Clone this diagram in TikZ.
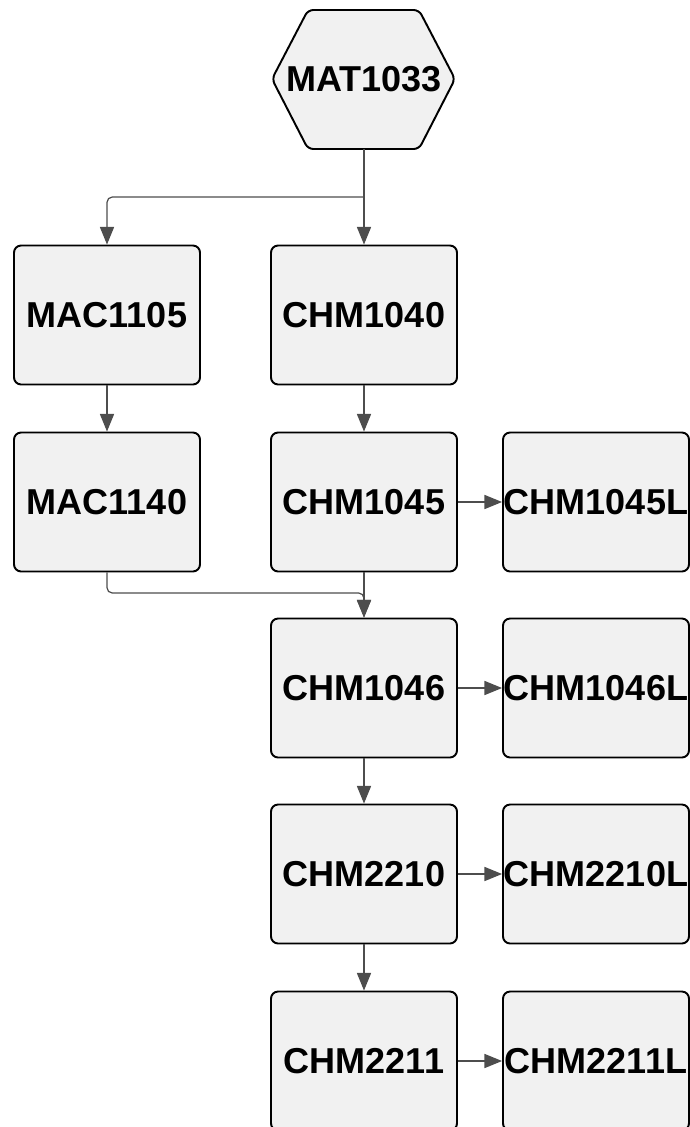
\documentclass[tikz,border=0pt]{standalone}
\usepackage{fontspec}
\setmainfont{Liberation Sans}
\usetikzlibrary{arrows.meta}
\definecolor{boxgray}{HTML}{F1F1F1}
\definecolor{linegray}{HTML}{4D4D4D}
\begin{document}
\begin{tikzpicture}[
  x=0.02cm, y=-0.02cm,
  course/.style={font=\bfseries\fontsize{20.5}{24}\selectfont},
  box/.style={course, rectangle, draw=black, line width=1.1pt, fill=boxgray, rounded corners=4pt, minimum width=3.72cm, minimum height=2.78cm, inner sep=0pt},
  arrow/.style={-{Triangle[length=10pt,width=8pt]}, draw=linegray, line width=0.7pt, rounded corners=3pt}
]
\useasboundingbox (0,0) rectangle (690,1127);
% start course
\draw[line width=1.1pt, fill=boxgray, rounded corners=3pt] (272,79) -- (308,10) -- (419,10) -- (455,79) -- (419,149) -- (308,149) -- cycle;
\node[course, minimum height=2.78cm, inner sep=0pt] (MAT1033) at (364,79) {MAT1033};
% math and chemistry chain
\node[box] (MAC1105) at (107,315) {MAC1105};
\node[box] (CHM1040) at (364,315) {CHM1040};
\node[box] (MAC1140) at (107,502) {MAC1140};
\node[box] (CHM1045) at (364,502) {CHM1045};
\node[box] (CHM1045L) at (596,502) {CHM1045L};
\node[box] (CHM1046) at (364,688) {CHM1046};
\node[box] (CHM1046L) at (596,688) {CHM1046L};
\node[box] (CHM2210) at (364,874) {CHM2210};
\node[box] (CHM2210L) at (596,874) {CHM2210L};
\node[box] (CHM2211) at (364,1061) {CHM2211};
\node[box] (CHM2211L) at (596,1061) {CHM2211L};
\coordinate (split) at (364,197);
\coordinate (merge) at (364,593);
\draw[arrow] (MAT1033.south) -- (CHM1040.north);
\draw[arrow] (split) -| (MAC1105.north);
\draw[arrow] (MAC1105) -- (MAC1140);
\draw[arrow] (CHM1040) -- (CHM1045);
\draw[arrow] (CHM1045) -- (CHM1045L);
\draw[arrow] (CHM1045) -- (CHM1046);
\draw[arrow] (MAC1140.south) |- (merge) -- (CHM1046.north);
\draw[arrow] (CHM1046) -- (CHM1046L);
\draw[arrow] (CHM1046) -- (CHM2210);
\draw[arrow] (CHM2210) -- (CHM2210L);
\draw[arrow] (CHM2210) -- (CHM2211);
\draw[arrow] (CHM2211) -- (CHM2211L);
\end{tikzpicture}
\end{document}
